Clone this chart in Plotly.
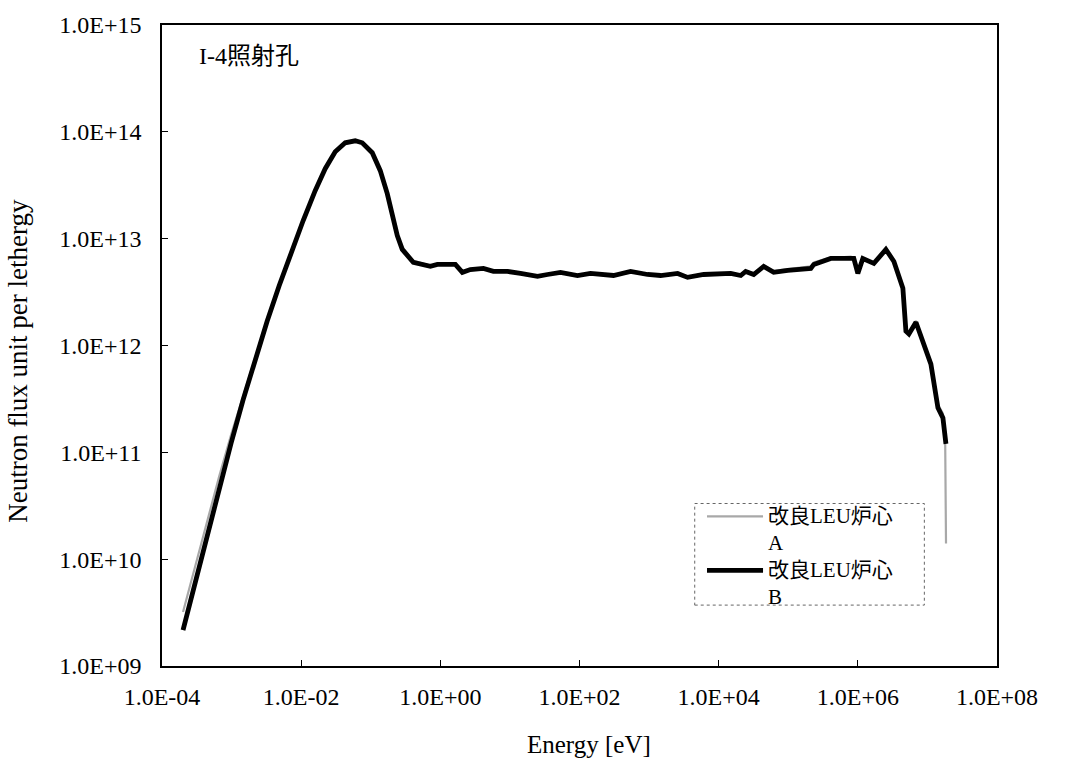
import plotly.graph_objects as go

# Neutron energy [eV]
energy = [
    2.005e-4, 2.985e-4, 4.44e-4, 6.61e-4, 9.835e-4, 1.464e-3, 2.178e-3,
    3.242e-3, 4.826e-3, 7.18e-3, 1.069e-2, 1.590e-2, 2.215e-2, 3.084e-2,
    4.295e-2, 5.98e-2, 7.545e-2, 0.1051, 0.1370, 0.1727, 0.2039, 0.2406,
    0.2839, 0.3464, 0.4089, 0.718, 0.906, 1.644, 2.075, 2.70, 4.16, 5.79,
    9.2, 14.2, 24.9, 34.7, 53.3, 93.5, 143.9, 308, 542, 951, 1462, 2570,
    3581, 6081, 9683, 1.489e4, 2.075e4, 2.443e4, 3.19e4, 4.44e4, 6.18e4,
    9.84e4, 2.11e5, 2.33e5, 4.09e5, 5.69e5, 7.93e5, 8.75e5, 1.0e6, 1.18e6,
    1.70e6, 2.53e6, 3.30e6, 4.44e6, 4.91e6, 5.42e6, 6.84e6, 8.61e6,
    1.122e7, 1.416e7, 1.671e7, 1.845e7,
]

# Flux per lethargy, core B
flux_b = [
    2.17e9, 6.08e9, 1.686e10, 4.576e10, 1.216e11, 3.095e11, 7.467e11,
    1.689e12, 3.622e12, 7.434e12, 1.478e13, 2.816e13, 4.516e13, 6.508e13,
    7.899e13, 8.245e13, 7.899e13, 6.37e13, 4.33e13, 2.64e13, 1.718e13,
    1.071e13, 7.93e12, 6.676e12, 6.0e12, 5.51e12, 5.74e12, 5.74e12,
    4.84e12, 5.14e12, 5.26e12, 4.94e12, 4.94e12, 4.73e12, 4.44e12, 4.62e12,
    4.84e12, 4.52e12, 4.73e12, 4.52e12, 4.94e12, 4.62e12, 4.52e12, 4.73e12,
    4.34e12, 4.62e12, 4.73e12, 4.73e12, 4.52e12, 4.94e12, 4.62e12, 5.51e12,
    4.84e12, 5.05e12, 5.26e12, 5.74e12, 6.53e12, 6.53e12, 6.68e12, 6.53e12,
    4.73e12, 6.53e12, 5.87e12, 7.92e12, 6.12e12, 3.43e12, 1.36e12, 1.28e12,
    1.65e12, 1.05e12, 6.70e11, 2.61e11, 2.10e11, 1.20e11,
]

# Core A: same grid, extending a little further at the high end
energy_a = energy[:-1] + [1.80e7, 1.82e7, 1.85e7]
flux_a = [
    3.2e9, 8.6e9, 2.27e10, 5.9e10, 1.46e11, 3.40e11, 7.64e11,
    1.689e12, 3.622e12, 7.434e12, 1.478e13, 2.816e13, 4.516e13, 6.508e13,
    7.899e13, 8.245e13, 7.899e13, 6.37e13, 4.33e13, 2.66e13, 1.75e13,
    1.10e13, 8.3e12, 7.0e12, 6.2e12, 5.6e12, 5.8e12, 5.74e12,
    4.90e12, 5.14e12, 5.26e12, 4.94e12, 4.94e12, 4.73e12, 4.44e12, 4.62e12,
    4.84e12, 4.52e12, 4.73e12, 4.52e12, 4.94e12, 4.62e12, 4.52e12, 4.73e12,
    4.40e12, 4.62e12, 4.73e12, 4.73e12, 4.60e12, 5.0e12, 4.75e12, 5.6e12,
    5.0e12, 5.2e12, 5.5e12, 6.0e12, 6.7e12, 6.7e12, 6.8e12, 6.6e12,
    4.9e12, 6.6e12, 5.9e12, 7.92e12, 6.12e12, 3.5e12, 1.4e12, 1.3e12,
    1.7e12, 1.10e12, 7.0e11, 2.8e11, 2.3e11, 1.3e11, 5.0e10, 1.4e10,
]

x_tickvals = [1e-4, 1e-2, 1e0, 1e2, 1e4, 1e6, 1e8]
x_ticktext = ["1.0E-04", "1.0E-02", "1.0E+00", "1.0E+02", "1.0E+04", "1.0E+06", "1.0E+08"]
y_tickvals = [1e9, 1e10, 1e11, 1e12, 1e13, 1e14, 1e15]
y_ticktext = ["1.0E+09", "1.0E+10", "1.0E+11", "1.0E+12", "1.0E+13", "1.0E+14", "1.0E+15"]

series_label = "改良LEU炉心"
series_suffix = ["A", "B"]
series_colors = ["#a8a8a8", "black"]
series_widths = [2.2, 4.8]

SERIF = "Liberation Serif, Times New Roman, Noto Sans CJK JP, serif"

fig = go.Figure()
for i, (xs, ys) in enumerate([(energy_a, flux_a), (energy, flux_b)]):
    fig.add_trace(go.Scatter(
        x=xs, y=ys, mode="lines", name=series_label + " " + series_suffix[i],
        line=dict(color=series_colors[i], width=series_widths[i]),
    ))

axis_common = dict(
    showgrid=False, zeroline=False, showline=True, linecolor="black",
    linewidth=1.5, mirror=True, ticks="inside", ticklen=6, tickcolor="black",
    tickfont=dict(family=SERIF, size=24, color="black"),
)

# Legend drawn by hand inside a dotted box (two-line labels, tight spacing)
legend_key_rows = [0.2333, 0.1493]   # paper y of each key line
legend_text_rows = [0.2123, 0.1283]  # paper y of each two-line label centre
key_x0, key_x1, text_x = 0.6527, 0.7198, 0.7246

annotations = [
    dict(text="I-4照射孔", xref="paper", yref="paper", x=0.042, y=0.952,
         xanchor="left", yanchor="middle", showarrow=False,
         font=dict(family=SERIF, size=24, color="black")),
    dict(text="Energy [eV]", xref="paper", yref="paper", x=0.511, y=-0.1229,
         xanchor="center", yanchor="middle", showarrow=False,
         font=dict(family=SERIF, size=25, color="black")),
    dict(text="Neutron flux unit per lethergy", xref="paper", yref="paper",
         x=-0.1725, y=0.476, xanchor="center", yanchor="middle",
         textangle=-90, showarrow=False,
         font=dict(family=SERIF, size=27, color="black")),
]
shapes = [dict(
    type="rect", xref="paper", yref="paper",
    x0=0.638, x1=0.913, y0=0.095, y1=0.2535,
    line=dict(color="#666666", width=1, dash="dot"),
)]
for i in range(2):
    shapes.append(dict(
        type="line", xref="paper", yref="paper",
        x0=key_x0, x1=key_x1, y0=legend_key_rows[i], y1=legend_key_rows[i],
        line=dict(color=series_colors[i], width=series_widths[i]),
    ))
    annotations.append(dict(
        text=series_label + "<br>" + series_suffix[i], align="left",
        xref="paper", yref="paper", x=text_x, y=legend_text_rows[i],
        xanchor="left", yanchor="middle", showarrow=False, borderpad=0,
        font=dict(family=SERIF, size=21, color="black"),
    ))

fig.update_layout(
    width=1067, height=762,
    margin=dict(l=162, r=70, t=23, b=96),
    paper_bgcolor="white", plot_bgcolor="white",
    font=dict(family=SERIF, color="black"),
    showlegend=False,
    xaxis=dict(
        type="log", range=[-4, 8], tickvals=x_tickvals, ticktext=x_ticktext,
        ticklabelstandoff=8, **axis_common,
    ),
    yaxis=dict(
        type="log", range=[9, 15], tickvals=y_tickvals, ticktext=y_ticktext,
        ticklabelstandoff=14, **axis_common,
    ),
    annotations=annotations,
    shapes=shapes,
)

fig.write_html("out.html")
